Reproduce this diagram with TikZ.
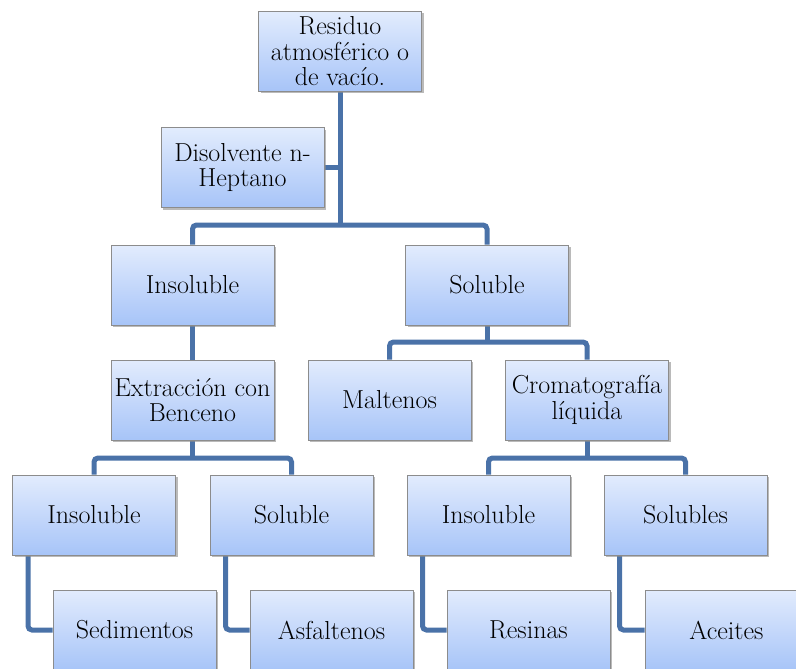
\documentclass[tikz,border=0pt]{standalone}
\usetikzlibrary{shadows,backgrounds}
\definecolor{boxtop}{HTML}{E2ECFD}
\definecolor{boxbot}{HTML}{A7C4F8}
\definecolor{boxline}{HTML}{8C8C8C}
\definecolor{conn}{HTML}{4A72A8}
\begin{document}
\begin{tikzpicture}[x=1pt,y=-1pt,
  box/.style={draw=boxline, line width=1pt, top color=boxtop, bottom color=boxbot,
    minimum width=163pt, minimum height=80pt, inner sep=0pt, align=center,
    font=\fontsize{26}{25.5}\selectfont,
    drop shadow={shadow xshift=2pt, shadow yshift=-2pt, fill=black!45, opacity=0.6}},
  link/.style={draw=conn, line width=5pt, rounded corners=4pt}]
\useasboundingbox (0,0) rectangle (796,669);
\clip (0,0) rectangle (796,669);
\node[box] (root) at (340,51.5) {Residuo\\atmosférico o\\de vacío.};
\node[box] (hept) at (242.5,167.5) {Disolvente n-\\Heptano};
\node[box] (ins1) at (192.5,285) {Insoluble};
\node[box] (sol1) at (487,285) {Soluble};
\node[box] (ext) at (192.5,400) {Extracción con\\Benceno};
\node[box] (mal) at (389.5,400) {Maltenos};
\node[box] (cro) at (587,400) {Cromatografía\\líquida};
\node[box] (ins2) at (94,515) {Insoluble};
\node[box] (sol2) at (291.5,515) {Soluble};
\node[box] (ins3) at (488.5,515) {Insoluble};
\node[box] (sols) at (685.5,515) {Solubles};
\node[box] (sed) at (134.5,630) {Sedimentos};
\node[box] (asf) at (331.5,630) {Asfaltenos};
\node[box] (res) at (528.5,630) {Resinas};
\node[box] (ace) at (726.5,630) {Aceites};
\coordinate (j1) at (340,225);
\coordinate (j2) at (487,342);
\coordinate (j3) at (192.5,458);
\coordinate (j4) at (587,458);
\begin{scope}[on background layer]
\draw[link] (root.south) -- (j1);
\draw[link] (hept.east) -- (hept.east -| root.south);
\draw[link] (ins1.north) -- (ins1.north |- j1) -- (sol1.north |- j1) -- (sol1.north);
\draw[link] (ins1.south) -- (ext.north);
\draw[link] (sol1.south) -- (j2);
\draw[link] (mal.north) -- (mal.north |- j2) -- (cro.north |- j2) -- (cro.north);
\draw[link] (ext.south) -- (j3);
\draw[link] (ins2.north) -- (ins2.north |- j3) -- (sol2.north |- j3) -- (sol2.north);
\draw[link] (cro.south) -- (j4);
\draw[link] (ins3.north) -- (ins3.north |- j4) -- (sols.north |- j4) -- (sols.north);
\draw[link] ([xshift=16pt]ins2.south west) |- (sed.west);
\draw[link] ([xshift=16pt]sol2.south west) |- (asf.west);
\draw[link] ([xshift=16pt]ins3.south west) |- (res.west);
\draw[link] ([xshift=16pt]sols.south west) |- (ace.west);
\end{scope}
\end{tikzpicture}
\end{document}
